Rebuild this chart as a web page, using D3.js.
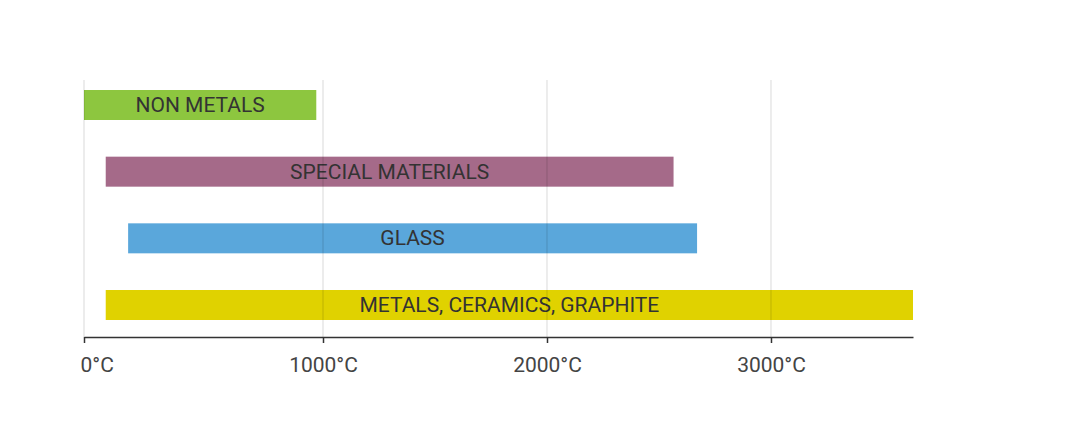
<!DOCTYPE html><html><head><meta charset="utf-8"><script src="https://cdn.jsdelivr.net/npm/d3@7"></script>
<style>body{margin:0;background:#fff}</style></head><body><svg id="c" width="1080" height="426"></svg><script>
const categories=["NON METALS","SPECIAL MATERIALS","GLASS","METALS, CERAMICS, GRAPHITE"];
const startValues=[-67,30,130,30];
const endValues=[970,2565,2670,3634];
const colors=["#8dc63f","#a56a89","#5aa7db","#e0d200"];
const tickValues=[-67,1000,2000,3000];
const tickLabels=["0°C","1000°C","2000°C","3000°C"];
const svg=d3.select("#c");
const x=d3.scaleLinear().domain([-67,3634]).range([84,913]);
const y=d3.scaleBand().domain(categories).range([80,330]).paddingInner(0.55).paddingOuter(0.15);
const g=svg.append("g");
g.selectAll("rect").data(categories).join("rect")
 .attr("x",(d,i)=>x(startValues[i])).attr("width",(d,i)=>x(endValues[i])-x(startValues[i]))
 .attr("y",d=>y(d)).attr("height",y.bandwidth()).attr("fill",(d,i)=>colors[i]);
svg.append("g").selectAll("line").data(tickValues.slice(1)).join("line")
 .attr("x1",d=>x(d)).attr("x2",d=>x(d)).attr("y1",80).attr("y2",337)
 .attr("stroke","#000").attr("stroke-opacity",0.15).attr("stroke-width",1);
svg.append("line").attr("x1",84).attr("x2",84).attr("y1",80).attr("y2",337).attr("stroke","#000").attr("stroke-opacity",0.15);
g.selectAll("text").data(categories).join("text")
 .attr("x",(d,i)=>(x(startValues[i])+x(endValues[i]))/2).attr("y",d=>y(d)+y.bandwidth()/2+7)
 .attr("text-anchor","middle").attr("font-family","Roboto, Arial, sans-serif").attr("font-size",21)
 .attr("fill","#333").text(d=>d);
const ax=svg.append("g").attr("transform","translate(0,337)")
 .call(d3.axisBottom(x).tickValues(tickValues).tickFormat((d,i)=>tickLabels[i]).tickSize(6).tickSizeOuter(0).tickPadding(14));
ax.select(".domain").attr("stroke","#333").attr("stroke-width",1.5);
ax.selectAll(".tick line").attr("stroke","#333").attr("stroke-width",1.5);
ax.selectAll(".tick text").attr("font-family","Roboto, Arial, sans-serif").attr("font-size",21).attr("fill","#444");
ax.select(".tick text").attr("text-anchor","start").attr("dx",-4);
</script></body></html>
